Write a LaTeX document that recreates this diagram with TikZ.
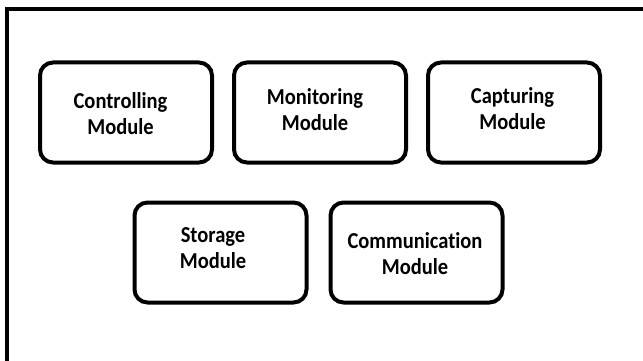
\documentclass[tikz,border=0pt]{standalone}
\usepackage{fontspec}
\setmainfont{Carlito}[FakeStretch=0.9,Ligatures=NoCommon]
\usetikzlibrary{positioning}

\begin{document}
\begin{tikzpicture}[x=1pt,y=-1pt,
  module/.style={draw,line width=4pt,rounded corners=13pt,
    minimum width=172pt,minimum height=100pt},
  modtext/.style={align=center,inner sep=0pt,
    font=\bfseries\fontsize{22.8}{26}\selectfont}]
  \useasboundingbox (0,0) rectangle (643,361);
  % Frame (left and top only)
  \draw[line width=4pt] (7,361) |- (643,9.5);
  % Top row
  \node[module] (ctrl)                         at (126,112.5) {};
  \node[module] (mon)  [right=18pt of ctrl]                    {};
  \node[module] (cap)  [right=18pt of mon]                     {};
  % Bottom row
  \node[module] (stor)                         at (220.5,252.5) {};
  \node[module] (comm) [right=20pt of stor]                    {};
  % Labels
  \node[modtext] (ctrl text) at ([shift={(-5.5pt,-1pt)}]ctrl.center) {Controlling\\Module};
  \node[modtext] (mon text)  at ([shift={(-5pt,3pt)}]mon.center)     {Monitoring\\Module};
  \node[modtext] (cap text)  at ([shift={(-1.5pt,3.5pt)}]cap.center) {Capturing\\Module};
  \node[modtext] (stor text) at ([shift={(-7.5pt,4.5pt)}]stor.center) {Storage\\Module};
  \node[modtext] (comm text) at ([shift={(-1.5pt,-1pt)}]comm.center) {Communication\\Module};
\end{tikzpicture}
\end{document}
